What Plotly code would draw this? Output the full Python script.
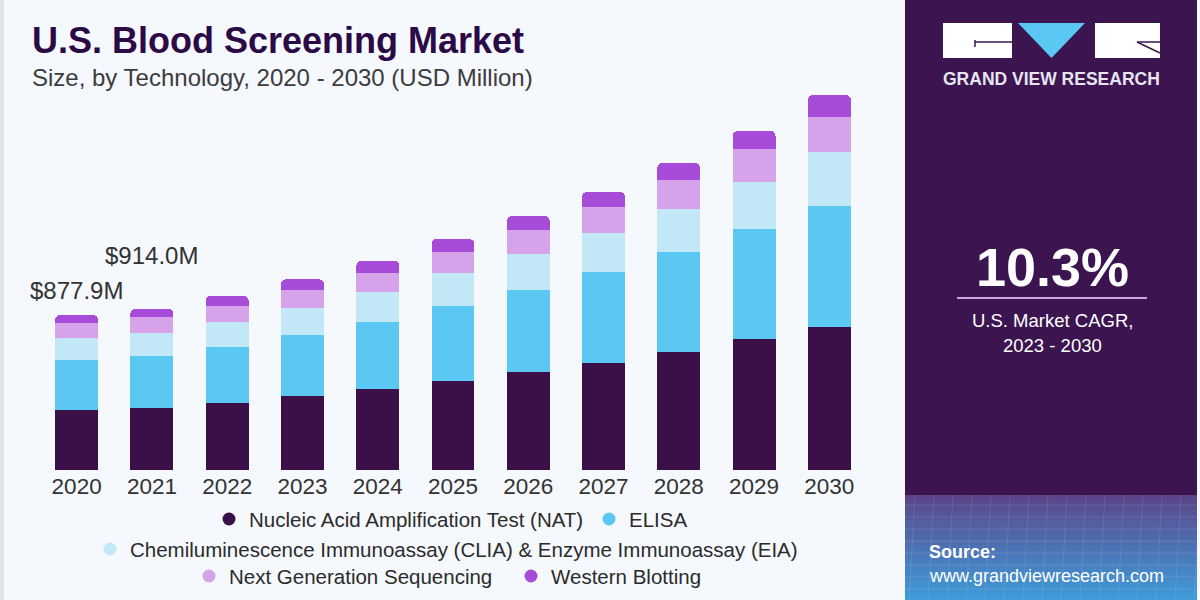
import plotly.graph_objects as go

years = ["2020", "2021", "2022", "2023", "2024", "2025", "2026", "2027", "2028", "2029", "2030"]
nat = [340, 352, 381, 419, 457, 504, 553, 604, 670, 742, 812]
elisa = [283, 292, 317, 345, 381, 423, 466, 515, 563, 623, 685]
clia = [125, 132, 140, 155, 168, 187, 204, 221, 244, 268, 306]
ngs = [85, 90.5, 91, 100, 111, 122, 136, 151, 166, 185, 198]
wb = [44.9, 47.5, 58, 61, 68, 72, 79, 85, 95, 102, 123]

series_names = [
    "Nucleic Acid Amplification Test (NAT)",
    "ELISA",
    "Chemiluminescence Immunoassay (CLIA) & Enzyme Immunoassay (EIA)",
    "Next Generation Sequencing",
    "Western Blotting",
]
series_values = [nat, elisa, clia, ngs, wb]
colors = ["#3b0f47", "#5ac8f2", "#c2e8f8", "#d6a2ea", "#a64cd9"]

W, H = 1200, 600
ML, MR, MT, MB = 39, 333, 90, 130
PW, PH = W - ML - MR, H - MT - MB
PX_PER_UNIT = 1 / 5.664
YMAX = PH / PX_PER_UNIT

FONT = "Liberation Sans, Arial, sans-serif"
BG = "#f5f8fc"
PANEL = "#3b1450"


def xp(px):
    return (px - ML) / PW


def yp(py):
    return (H - MB - py) / PH


fig = go.Figure()
for name, vals, col in zip(series_names, series_values, colors):
    fig.add_trace(go.Bar(x=years, y=vals, name=name, marker=dict(color=col, line=dict(width=0)),
                         showlegend=False, hoverinfo="x+y+name"))

shapes = []
annotations = []

# left thin border
shapes.append(dict(type="rect", xref="paper", yref="paper", x0=xp(0), x1=xp(4), y0=yp(600), y1=yp(0),
                   fillcolor="#e2e4e8", line=dict(width=0), layer="below"))
# right panel
shapes.append(dict(type="rect", xref="paper", yref="paper", x0=xp(905), x1=xp(1197), y0=yp(600), y1=yp(0),
                   fillcolor=PANEL, line=dict(width=0), layer="below"))


def lerp(c1, c2, t):
    a = [int(c1[i:i + 2], 16) for i in (1, 3, 5)]
    b = [int(c2[i:i + 2], 16) for i in (1, 3, 5)]
    return "#" + "".join(f"{int(round(a[k] + (b[k] - a[k]) * t)):02x}" for k in range(3))


# gradient bottom of panel
n = 21
top, bot = 495, 600
for i in range(n):
    y0 = top + (bot - top) * i / n
    y1 = top + (bot - top) * (i + 1) / n
    t = i / (n - 1)
    c = lerp("#5b4488", "#3f9ad8", t ** 0.9)
    shapes.append(dict(type="rect", xref="paper", yref="paper", x0=xp(905), x1=xp(1197), y0=yp(y1 + 0.5),
                       y1=yp(y0), fillcolor=c, line=dict(width=0), layer="below"))
# faint grid lines in gradient
for k in range(8):
    yy = 505 + k * 12
    shapes.append(dict(type="line", xref="paper", yref="paper", x0=xp(905), x1=xp(1197), y0=yp(yy), y1=yp(yy),
                       line=dict(color="rgba(255,255,255,0.12)", width=1), layer="below"))
for k in range(16):
    xx = 915 + k * 19
    shapes.append(dict(type="line", xref="paper", yref="paper", x0=xp(xx), x1=xp(xx - 6), y0=yp(495), y1=yp(600),
                       line=dict(color="rgba(255,255,255,0.10)", width=1), layer="below"))

# logo
shapes.append(dict(type="rect", xref="paper", yref="paper", x0=xp(943), x1=xp(1012), y0=yp(58), y1=yp(23),
                   fillcolor="white", line=dict(width=0)))
shapes.append(dict(type="rect", xref="paper", yref="paper", x0=xp(1095), x1=xp(1160), y0=yp(58), y1=yp(23),
                   fillcolor="white", line=dict(width=0)))
tri = f"M {xp(1018)} {yp(23)} L {xp(1085)} {yp(23)} L {xp(1051.5)} {yp(58)} Z"
shapes.append(dict(type="path", xref="paper", yref="paper", path=tri, fillcolor="#5ac8f2", line=dict(width=0)))
shapes.append(dict(type="line", xref="paper", yref="paper", x0=xp(975), x1=xp(1012), y0=yp(42), y1=yp(42),
                   line=dict(color="#3b1450", width=1.5)))
shapes.append(dict(type="line", xref="paper", yref="paper", x0=xp(975), x1=xp(975), y0=yp(40), y1=yp(47),
                   line=dict(color="#3b1450", width=1.5)))
shapes.append(dict(type="line", xref="paper", yref="paper", x0=xp(1137), x1=xp(1160), y0=yp(42), y1=yp(42),
                   line=dict(color="#3b1450", width=1.5)))
shapes.append(dict(type="line", xref="paper", yref="paper", x0=xp(1137), x1=xp(1160), y0=yp(42), y1=yp(53),
                   line=dict(color="#3b1450", width=1.5)))
annotations.append(dict(xref="paper", yref="paper", x=xp(1051.5), y=yp(79), text="<b>GRAND VIEW RESEARCH</b>",
                        showarrow=False, xanchor="center", yanchor="middle",
                        font=dict(family=FONT, size=17.5, color="#e8e4f0")))

# CAGR block
annotations.append(dict(xref="paper", yref="paper", x=xp(1052), y=yp(267), text="<b>10.3%</b>",
                        showarrow=False, xanchor="center", yanchor="middle",
                        font=dict(family=FONT, size=54, color="white")))
shapes.append(dict(type="line", xref="paper", yref="paper", x0=xp(957), x1=xp(1147), y0=yp(298), y1=yp(298),
                   line=dict(color="#c9a6e6", width=2)))
annotations.append(dict(xref="paper", yref="paper", x=xp(1052), y=yp(320), text="U.S. Market CAGR,",
                        showarrow=False, xanchor="center", yanchor="middle",
                        font=dict(family=FONT, size=18.5, color="white")))
annotations.append(dict(xref="paper", yref="paper", x=xp(1052), y=yp(345), text="2023 - 2030",
                        showarrow=False, xanchor="center", yanchor="middle",
                        font=dict(family=FONT, size=18.5, color="white")))

# source
annotations.append(dict(xref="paper", yref="paper", x=xp(927), y=yp(552), text="<b>Source:</b>",
                        showarrow=False, xanchor="left", yanchor="middle",
                        font=dict(family=FONT, size=18, color="white")))
annotations.append(dict(xref="paper", yref="paper", x=xp(927), y=yp(576), text="www.grandviewresearch.com",
                        showarrow=False, xanchor="left", yanchor="middle",
                        font=dict(family=FONT, size=18, color="white")))

# title
annotations.append(dict(xref="paper", yref="paper", x=xp(30), y=yp(41), text="<b>U.S. Blood Screening Market</b>",
                        showarrow=False, xanchor="left", yanchor="middle",
                        font=dict(family=FONT, size=36, color="#2b0a45")))
annotations.append(dict(xref="paper", yref="paper", x=xp(30), y=yp(77),
                        text="Size, by Technology, 2020 - 2030 (USD Million)",
                        showarrow=False, xanchor="left", yanchor="middle",
                        font=dict(family=FONT, size=24, color="#3c3c3c")))

# value labels for 2020 and 2021
totals = [sum(v[i] for v in series_values) for i in range(len(years))]
annotations.append(dict(xref="paper", yref="paper", x=xp(28), y=yp(290), text=f"${totals[0]:.1f}M",
                        showarrow=False, xanchor="left", yanchor="middle",
                        font=dict(family=FONT, size=24, color="#333333")))
annotations.append(dict(xref="paper", yref="paper", x=xp(103), y=yp(255), text=f"${totals[1]:.1f}M",
                        showarrow=False, xanchor="left", yanchor="middle",
                        font=dict(family=FONT, size=24, color="#333333")))

# custom legend
legend_rows = [
    (519, [(0, 229), (1, 609)]),
    (549, [(2, 110)]),
    (576, [(3, 209), (4, 531)]),
]
for ry, items in legend_rows:
    for idx, dx in items:
        r = 6.5
        shapes.append(dict(type="circle", xref="paper", yref="paper", x0=xp(dx - r), x1=xp(dx + r),
                           y0=yp(ry + r), y1=yp(ry - r), fillcolor=colors[idx], line=dict(width=0)))
        annotations.append(dict(xref="paper", yref="paper", x=xp(dx + 18), y=yp(ry), text=series_names[idx],
                                showarrow=False, xanchor="left", yanchor="middle",
                                font=dict(family=FONT, size=20.5, color="#2b2b2b")))

fig.update_layout(
    width=W, height=H,
    margin=dict(l=ML, r=MR, t=MT, b=MB, autoexpand=False),
    paper_bgcolor=BG, plot_bgcolor=BG,
    barmode="stack", bargap=0.43, barcornerradius=5,
    showlegend=False,
    shapes=shapes, annotations=annotations,
    xaxis=dict(type="category", range=[-0.5, 10.5], showgrid=False, zeroline=False, showline=False,
               ticks="", tickfont=dict(family=FONT, size=22.5, color="#333333"), fixedrange=True),
    yaxis=dict(range=[0, YMAX], visible=False, fixedrange=True),
)

fig.write_html(
    "out.html",
    config={"displayModeBar": False},
    post_script="document.body.style.margin='0';document.body.style.padding='0';"
                "document.body.style.overflow='hidden';document.body.style.background='" + BG + "';",
)
